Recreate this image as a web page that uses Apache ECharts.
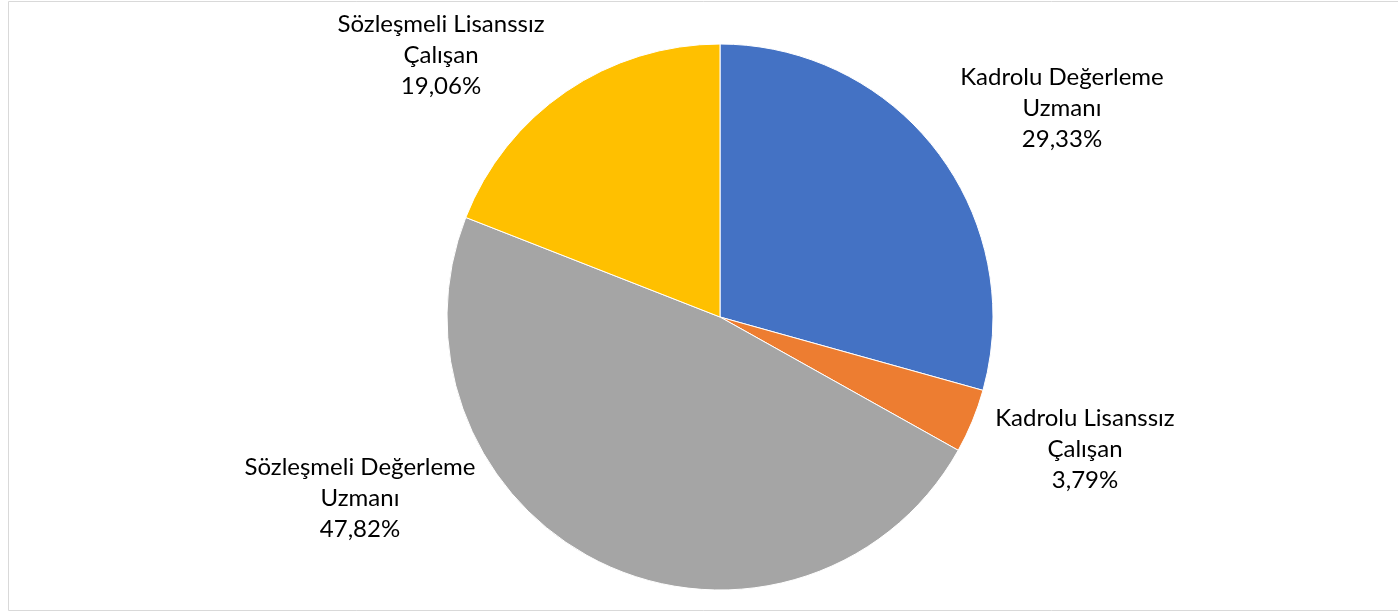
<!DOCTYPE html>
<html>
<head>
<meta charset="utf-8">
<script src="https://cdn.jsdelivr.net/npm/echarts@6/dist/echarts.min.js"></script>
<style>
    html, body { margin: 0; padding: 0; background: #fff; }
    #chart { width: 1398px; height: 612px; }
</style>
</head>
<body>
<div id="chart"></div>
<script>
// slice names and shares (%)
const names = ['Kadrolu Değerleme\nUzmanı', 'Kadrolu Lisanssız\nÇalışan', 'Sözleşmeli Değerleme\nUzmanı', 'Sözleşmeli Lisanssız\nÇalışan']
const shares = [29.33, 3.79, 47.82, 19.06]
const colors = ['#4472C4', '#ED7D31', '#A5A5A5', '#FFC000']

// where the label blocks sit (centre of text block, px)
const labelSpots = [[1062, 108], [1085, 449], [360, 498], [441, 55]]

const chart = echarts.init(document.getElementById('chart'))

const option = {
    animation: false,
    color: colors,
    graphic: [
        {
            type: 'rect',
            shape: { x: 8.5, y: 1.5, width: 1400, height: 609 },
            style: { fill: 'none', stroke: '#d9d9d9', lineWidth: 1 },
            silent: true
        }
    ],
    series: [
        {
            type: 'pie',
            center: [720, 317],
            radius: 273,
            startAngle: 90,
            clockwise: true,
            avoidLabelOverlap: false,
            itemStyle: { borderColor: '#fff', borderWidth: 1 },
            label: {
                show: true,
                position: 'outside',
                fontFamily: 'Lato',
                fontSize: 24,
                lineHeight: 31,
                color: '#000',
                align: 'center',
                formatter: function (p) {
                    return p.name + '\n' + p.value.toFixed(2).replace('.', ',') + '%'
                }
            },
            labelLine: { show: false },
            labelLayout: function (params) {
                const spot = labelSpots[params.dataIndex]
                return { x: spot[0], y: spot[1], align: 'center', verticalAlign: 'middle' }
            },
            data: names.map((n, i) => ({ name: n, value: shares[i] }))
        }
    ]
}
chart.setOption(option)
</script>
</body>
</html>
